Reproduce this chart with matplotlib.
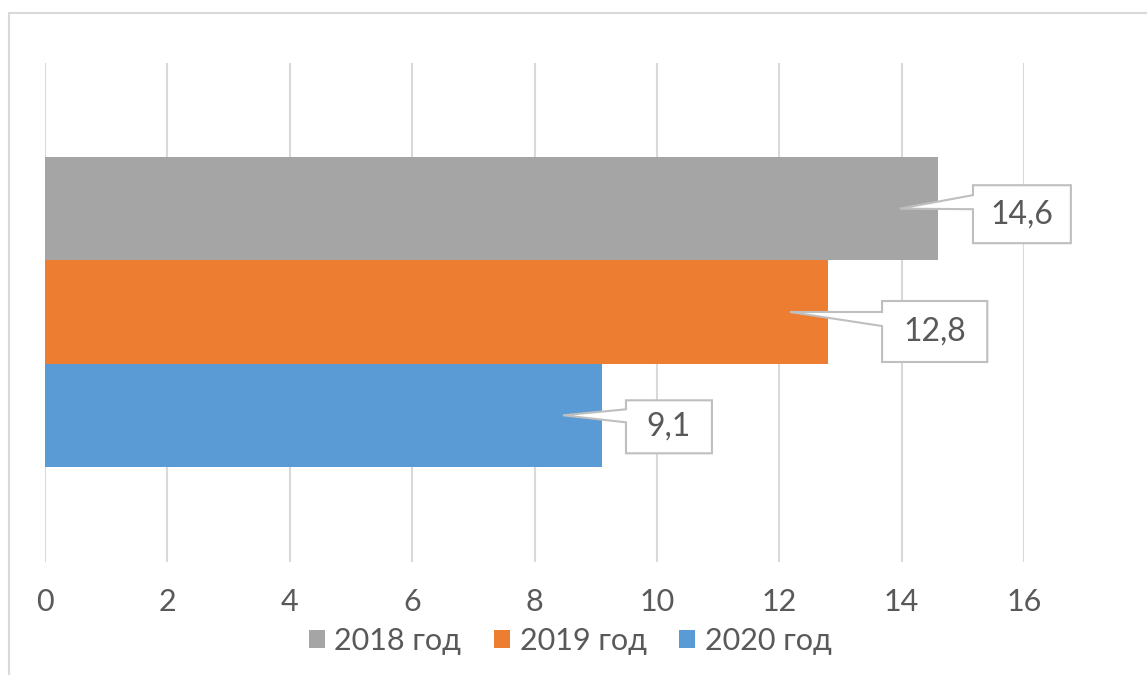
import matplotlib
matplotlib.use("Agg")
import matplotlib.pyplot as plt
from matplotlib.patches import Rectangle, Polygon

plt.rcParams['font.family'] = ['Lato', 'DejaVu Sans']

# data
series = ['2018 год', '2019 год', '2020 год']
values = [14.6, 12.8, 9.1]
labels = ['14,6', '12,8', '9,1']
colors = ['#a5a5a5', '#ed7d31', '#5b9bd5']
xticks = [0, 2, 4, 6, 8, 10, 12, 14, 16]

# callout layout (relative to bar end / bar centre), data units
# (box left offset, box width, box top, box bottom, wedge top, wedge bottom, tip offset)
callouts = [
    (0.566, 1.60, 0.227, -0.334, 0.131, -0.005, -0.63),
    (0.880, 1.72, 0.106, -0.484, 0.000, -0.136, -0.625),
    (0.395, 1.405, 0.145, -0.368, 0.058, -0.068, -0.634),
]

text_color = '#595959'
grid_color = '#d9d9d9'

fig = plt.figure(figsize=(11.47, 6.75), dpi=100)
ax = fig.add_axes([45 / 1147, (675 - 562) / 675, 979 / 1147, 499 / 675])

ypos = [2, 1, 0]
for y, v, c, s in zip(ypos, values, colors, series):
    ax.barh(y, v, height=1.0, color=c, label=s, zorder=2)

for y, v, lab, co in zip(ypos, values, labels, callouts):
    dx, w, top, bot, wtop, wbot, tip = co
    x0 = v + dx
    x1 = x0 + w
    pts = [(x0, y + top), (x1, y + top), (x1, y + bot), (x0, y + bot),
           (x0, y + wbot), (v + tip, y), (x0, y + wtop)]
    ax.add_patch(Polygon(pts, closed=True, facecolor='white', edgecolor='#bfbfbf',
                         linewidth=1.5, zorder=4, clip_on=False, joinstyle='miter'))
    ax.text((x0 + x1) / 2, y + (top + bot) / 2, lab, ha='center', va='center',
            fontsize=23, color=text_color, zorder=5, clip_on=False)

ax.set_xlim(0, 16)
ax.set_ylim(-0.5 - 0.92, 2.5 + 0.91)
ax.set_xticks(xticks)
ax.set_xticklabels([str(t) for t in xticks])
ax.set_yticks([])
ax.tick_params(axis='x', length=0, pad=19, labelsize=22, labelcolor=text_color)
ax.grid(axis='x', color=grid_color, linewidth=1.5, zorder=0)
ax.set_axisbelow(True)
for sp in ax.spines.values():
    sp.set_visible(False)

leg = fig.legend(loc='center', bbox_to_anchor=(570 / 1147, (675 - 641) / 675),
                 ncol=3, frameon=False, fontsize=22, handlelength=0.55,
                 handleheight=0.55, handletextpad=0.3, columnspacing=1.05,
                 borderaxespad=0)
for t in leg.get_texts():
    t.set_color(text_color)

# outer chart border
fig.add_artist(Rectangle((9 / 1147, -0.05), 1.2, (675 - 13) / 675 + 0.05,
                         transform=fig.transFigure, fill=False,
                         edgecolor=grid_color, linewidth=1.5))

fig.savefig('out.png', dpi=100, facecolor='white')
